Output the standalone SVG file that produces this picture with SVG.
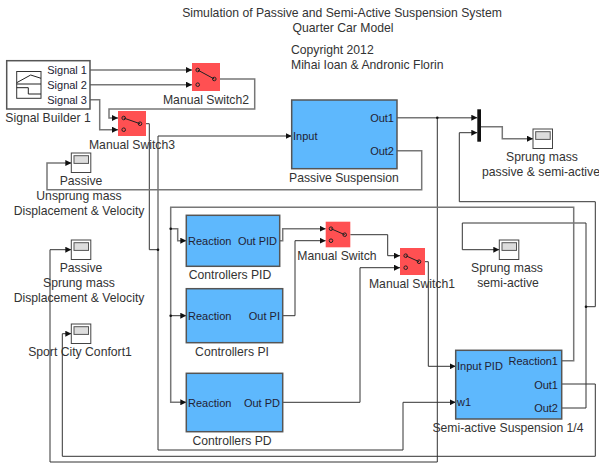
<svg xmlns="http://www.w3.org/2000/svg" width="599" height="463" viewBox="0 0 599 463">
<style>
text{font-family:"Liberation Sans",Arial,sans-serif;font-size:12.2px;fill:#333}
.m{text-anchor:middle}
.e{text-anchor:end}
.p{font-size:11px;fill:#223}
.b{fill:#5eb8fd;stroke:#555;stroke-width:1.5}
.sw{fill:#ff5052}
.c{fill:none;stroke:#777;stroke-width:1.5}
.t{fill:none;stroke:#333;stroke-width:1}
.sc{fill:#fff;stroke:#444;stroke-width:1}
.si{fill:#ddd;stroke:#555;stroke-width:1}
.k{fill:none;stroke:#222;stroke-width:1}
</style>
<defs>
<marker id="a" markerUnits="userSpaceOnUse" markerWidth="6" markerHeight="6" refX="6" refY="3" orient="auto"><path d="M0 0L6 3L0 6z" fill="#111"/></marker>
<g id="scope"><rect class="sc" x="0" y="0" width="19.5" height="19.5"/><rect class="si" x="2.7" y="2.7" width="14.5" height="7.7"/></g>
</defs>
<g id="connectors">
<path class="c" marker-end="url(#a)" d="M90 70H192"/>
<path class="c" marker-end="url(#a)" d="M90 84.7H192"/>
<path class="c" marker-end="url(#a)" d="M90 99.7H99.7V129.7H118"/>
<path class="c" marker-end="url(#a)" d="M220 79H254.7V109H109V118H118"/>
<path class="t" d="M146 123.7H149.3V249.7H158"/>
<path class="c" marker-end="url(#a)" d="M158 136H291.7"/>
<path class="t" marker-end="url(#a)" d="M158 136V450H403V402.3H455.7"/>
<path class="c" marker-end="url(#a)" d="M397 150.7H421.7V189.7H47V163H71.3"/>
<path class="c" marker-end="url(#a)" d="M397 117.7H477.3"/>
<path class="t" marker-end="url(#a)" d="M437.3 117.7V462H50V249.7H71.3"/>
<path class="c" marker-end="url(#a)" d="M481 126.7H502.3V138.7H533"/>
<path class="t" marker-end="url(#a)" d="M595.3 306.7V201.7H459.3V132.7H477.3"/>
<path class="t" marker-end="url(#a)" d="M561.7 408H586V223H462.3V249.7H499.3"/>
<path class="t" d="M586 306.7H595.3"/>
<path class="t" marker-end="url(#a)" d="M561.7 384H595.3V456.3H62.3V333.7H71.3"/>
<path class="c" marker-end="url(#a)" d="M561.7 360.7H573.7V207.3H170.7V402.3H186.3"/>
<path class="c" marker-end="url(#a)" d="M170.7 228.7H177.7V240.7H186.3"/>
<path class="t" marker-end="url(#a)" d="M170.7 315.7H186.3"/>
<path class="c" marker-end="url(#a)" d="M279.7 240.7H282.7V228.7H325.7"/>
<path class="t" marker-end="url(#a)" d="M282.7 315.7H295V240.7H325.7"/>
<path class="t" marker-end="url(#a)" d="M350.3 234.7H387.7V255.7H400"/>
<path class="t" marker-end="url(#a)" d="M282.7 402.3H360V267.7H400"/>
<path class="t" marker-end="url(#a)" d="M425 261.7H428.3V366.3H455.7"/>
<g fill="#111"><circle cx="437.3" cy="117.7" r="1.3"/><circle cx="158" cy="249.7" r="1.3"/><circle cx="170.7" cy="228.7" r="1.3"/><circle cx="170.7" cy="315.7" r="1.3"/><circle cx="586" cy="306.7" r="1.3"/></g>
</g>
<g id="title">
<text class="m" x="342" y="17.3">Simulation of Passive and Semi-Active Suspension System</text>
<text class="m" x="343" y="32">Quarter Car Model</text>
<text x="291" y="53.5">Copyright 2012</text>
<text x="291" y="68.5">Mihai Ioan &amp; Andronic Florin</text>
</g>
<g id="signal-builder">
<rect x="6.7" y="60.7" width="83.3" height="48.3" fill="#fff" stroke="#555" stroke-width="1.5"/>
<rect x="16.7" y="71.5" width="24.3" height="26.8" fill="#fff" stroke="#333"/>
<path class="k" d="M16.7 82.7L30.7 75L41 78.3M16.7 84H41M16.7 87.7H28.3V94H41"/>
<text class="p e" x="87" y="74">Signal 1</text><text class="p e" x="87" y="89">Signal 2</text><text class="p e" x="87" y="104">Signal 3</text>
<text class="m" x="48" y="122">Signal Builder 1</text>
</g>
<g id="manual-switch2"><rect class="sw" x="192" y="63" width="28" height="28"/><path class="k" d="M197.7 70L214.3 79"/><g class="k"><circle cx="197.7" cy="70" r="1.8"/><circle cx="197.7" cy="84.7" r="1.8"/><circle cx="214.3" cy="79" r="1.8"/></g><text class="m" x="206" y="104">Manual Switch2</text></g>
<g id="manual-switch3"><rect class="sw" x="118" y="111" width="28" height="25"/><path class="k" d="M123.7 118L140 123.7"/><g class="k"><circle cx="123.7" cy="118" r="1.8"/><circle cx="123.7" cy="129.7" r="1.8"/><circle cx="140" cy="123.7" r="1.8"/></g><text class="m" x="132" y="149">Manual Switch3</text></g>
<g id="manual-switch"><rect class="sw" x="325.7" y="221.7" width="24.6" height="25.6"/><path class="k" d="M331 228.7L344.7 234.7"/><g class="k"><circle cx="331" cy="228.7" r="1.8"/><circle cx="331" cy="240.7" r="1.8"/><circle cx="344.7" cy="234.7" r="1.8"/></g><text class="m" x="337" y="259.5">Manual Switch</text></g>
<g id="manual-switch1"><rect class="sw" x="400" y="248" width="25" height="27"/><path class="k" d="M405.7 255.7L419 261.7"/><g class="k"><circle cx="405.7" cy="255.7" r="1.8"/><circle cx="405.7" cy="267.7" r="1.8"/><circle cx="419" cy="261.7" r="1.8"/></g><text class="m" x="412" y="287.5">Manual Switch1</text></g>
<g id="passive-suspension"><rect class="b" x="291.7" y="100" width="105.3" height="68.7"/><text class="p" x="293" y="140">Input</text><text class="p e" x="394" y="122">Out1</text><text class="p e" x="394" y="155">Out2</text><text class="m" x="344" y="182">Passive Suspension</text></g>
<g id="mux"><rect x="477.3" y="109.3" width="3.7" height="32.4" fill="#111"/></g>
<g id="scope-sprung-both"><use href="#scope" x="533" y="129"/><text class="m" x="542" y="161">Sprung mass</text><text class="m" x="541" y="176">passive &amp; semi-active</text></g>
<g id="scope-passive-unsprung"><use href="#scope" x="71.3" y="153"/><text class="m" x="81" y="185">Passive</text><text class="m" x="79" y="200">Unsprung mass</text><text class="m" x="79" y="215">Displacement &amp; Velocity</text></g>
<g id="scope-passive-sprung"><use href="#scope" x="71.3" y="240"/><text class="m" x="81" y="272">Passive</text><text class="m" x="79" y="287">Sprung mass</text><text class="m" x="79" y="302">Displacement &amp; Velocity</text></g>
<g id="scope-sport"><use href="#scope" x="71.3" y="324"/><text class="m" x="80" y="356">Sport City Confort1</text></g>
<g id="scope-semi"><use href="#scope" x="499.3" y="240"/><text class="m" x="507" y="272">Sprung mass</text><text class="m" x="508" y="287">semi-active</text></g>
<g id="controllers-pid"><rect class="b" x="186.3" y="215.3" width="93.4" height="51"/><text class="p" x="188" y="245">Reaction</text><text class="p e" x="277" y="245">Out PID</text><text class="m" x="230" y="279">Controllers PID</text></g>
<g id="controllers-pi"><rect class="b" x="186.3" y="288.7" width="96.4" height="54"/><text class="p" x="188" y="320">Reaction</text><text class="p e" x="280" y="320">Out PI</text><text class="m" x="232" y="356">Controllers PI</text></g>
<g id="controllers-pd"><rect class="b" x="186.3" y="373.3" width="96.4" height="58.4"/><text class="p" x="188" y="407">Reaction</text><text class="p e" x="280" y="407">Out PD</text><text class="m" x="232" y="445">Controllers PD</text></g>
<g id="semi-active"><rect class="b" x="455.7" y="350.3" width="106" height="68.7"/><text class="p" x="457" y="370">Input PID</text><text class="p" x="457" y="406">w1</text><text class="p e" x="558" y="365">Reaction1</text><text class="p e" x="558" y="389">Out1</text><text class="p e" x="558" y="412">Out2</text><text class="m" x="508" y="432">Semi-active Suspension 1/4</text></g>
</svg>
